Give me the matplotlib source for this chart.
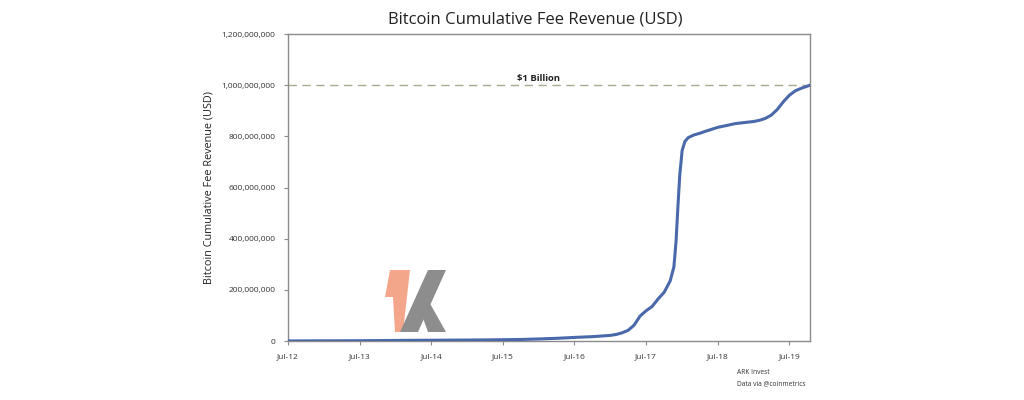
import matplotlib
matplotlib.use("Agg")
import matplotlib.pyplot as plt
import matplotlib.ticker as mticker
from matplotlib.patches import Polygon
import pandas as pd

plt.rcParams['font.family'] = ['Open Sans', 'DejaVu Sans']

# ---- data (cumulative fee revenue, USD millions) ----
dates = ["2012-07-01", "2012-10-01", "2013-01-01", "2013-04-01", "2013-07-01", "2013-10-01",
         "2014-01-01", "2014-04-01", "2014-07-01", "2014-10-01", "2015-01-01", "2015-04-01",
         "2015-07-01", "2015-10-01", "2016-01-01", "2016-04-01", "2016-07-01", "2016-10-01",
         "2017-01-01", "2017-02-01", "2017-03-01", "2017-04-01", "2017-05-01", "2017-06-01",
         "2017-07-01", "2017-08-01", "2017-09-01", "2017-10-01", "2017-11-01", "2017-11-20",
         "2017-12-01", "2017-12-10", "2017-12-20", "2018-01-01", "2018-01-15", "2018-02-01",
         "2018-03-01", "2018-04-01", "2018-05-01", "2018-07-01", "2018-10-01", "2019-01-01",
         "2019-02-01", "2019-03-01", "2019-04-01", "2019-05-01", "2019-06-01", "2019-07-01",
         "2019-08-01", "2019-09-01", "2019-10-01", "2019-10-15"]
revenue_musd = [0.3, 0.5, 0.7, 0.9, 1.2, 1.6,
                2.2, 2.7, 3.0, 3.4, 3.8, 4.3,
                5.0, 6.0, 8.0, 10.5, 14, 17,
                22, 26, 32, 42, 62, 98,
                118, 135, 165, 190, 235, 290,
                390, 520, 650, 745, 780, 795,
                805, 812, 820, 835, 850, 858,
                863, 870, 883, 905, 935, 960,
                978, 988, 996, 1000]

threshold_value = 1_000_000_000
threshold_label = "$1 Billion"
xtick_dates = ["2012-07-01", "2013-07-01", "2014-07-01", "2015-07-01",
               "2016-07-01", "2017-07-01", "2018-07-01", "2019-07-01"]
xtick_labels = ["Jul-12", "Jul-13", "Jul-14", "Jul-15", "Jul-16", "Jul-17", "Jul-18", "Jul-19"]
yticks = [0, 200_000_000, 400_000_000, 600_000_000, 800_000_000, 1_000_000_000, 1_200_000_000]

x = pd.to_datetime(dates)
y = [v * 1e6 for v in revenue_musd]

fig = plt.figure(figsize=(10.24, 4.0), dpi=100)
fig.patch.set_facecolor('white')
ax = fig.add_axes([288/1024, 1 - 341/400, (810 - 288)/1024, (341 - 34)/400])

ax.plot(x, y, color='#4a69ab', lw=2.2, solid_capstyle='round', zorder=3)
ax.axhline(threshold_value, color='#a9a993', lw=1.0, ls=(0, (6, 4)), zorder=2)
ax.text(pd.Timestamp("2016-01-01"), threshold_value + 10_000_000, threshold_label,
        ha='center', va='bottom', fontsize=6.8, fontweight='bold', color='#222222')

ax.set_xlim(pd.Timestamp("2012-07-01"), pd.Timestamp("2019-10-15"))
ax.set_ylim(0, 1_200_000_000)
ax.set_xticks(pd.to_datetime(xtick_dates))
ax.set_xticklabels(xtick_labels)
ax.set_yticks(yticks)
ax.yaxis.set_major_formatter(mticker.FuncFormatter(lambda v, p: f"{int(v):,}"))

for s in ax.spines.values():
    s.set_color('#8a8a8a')
    s.set_linewidth(1.0)
ax.tick_params(axis='both', direction='out', length=3, width=0.8, color='#8a8a8a',
               labelsize=6.0, labelcolor='#333333', pad=6)
ax.set_ylabel("Bitcoin Cumulative Fee Revenue (USD)", fontsize=7.8, color='#222222', labelpad=5)

fig.text(535/1024, 1 - 19/400, "Bitcoin Cumulative Fee Revenue (USD)", ha='center', va='center',
         fontsize=12, color='#222222')
fig.text(737/1024, 1 - 372/400, "ARK Invest", ha='left', va='center', fontsize=4.8, color='#333333')
fig.text(737/1024, 1 - 384/400, "Data via @coinmetrics", ha='left', va='center', fontsize=4.8, color='#333333')

# watermark logo (figure pixel coordinates)
def px(pts):
    return [(a/1024, 1 - b/400) for a, b in pts]
fig.patches.append(Polygon(px([(390, 270), (410, 270), (403, 332), (395, 332), (393, 297), (385, 297)]),
                           closed=True, transform=fig.transFigure, facecolor='#f4a68b', edgecolor='none', zorder=1))
fig.patches.append(Polygon(px([(428, 270), (446, 270), (418, 332), (400, 332)]),
                           closed=True, transform=fig.transFigure, facecolor='#8d8d8d', edgecolor='none', zorder=1))
fig.patches.append(Polygon(px([(420, 310), (428, 300), (446, 332), (428, 332)]),
                           closed=True, transform=fig.transFigure, facecolor='#8d8d8d', edgecolor='none', zorder=1))

fig.savefig("out.png", dpi=100)
